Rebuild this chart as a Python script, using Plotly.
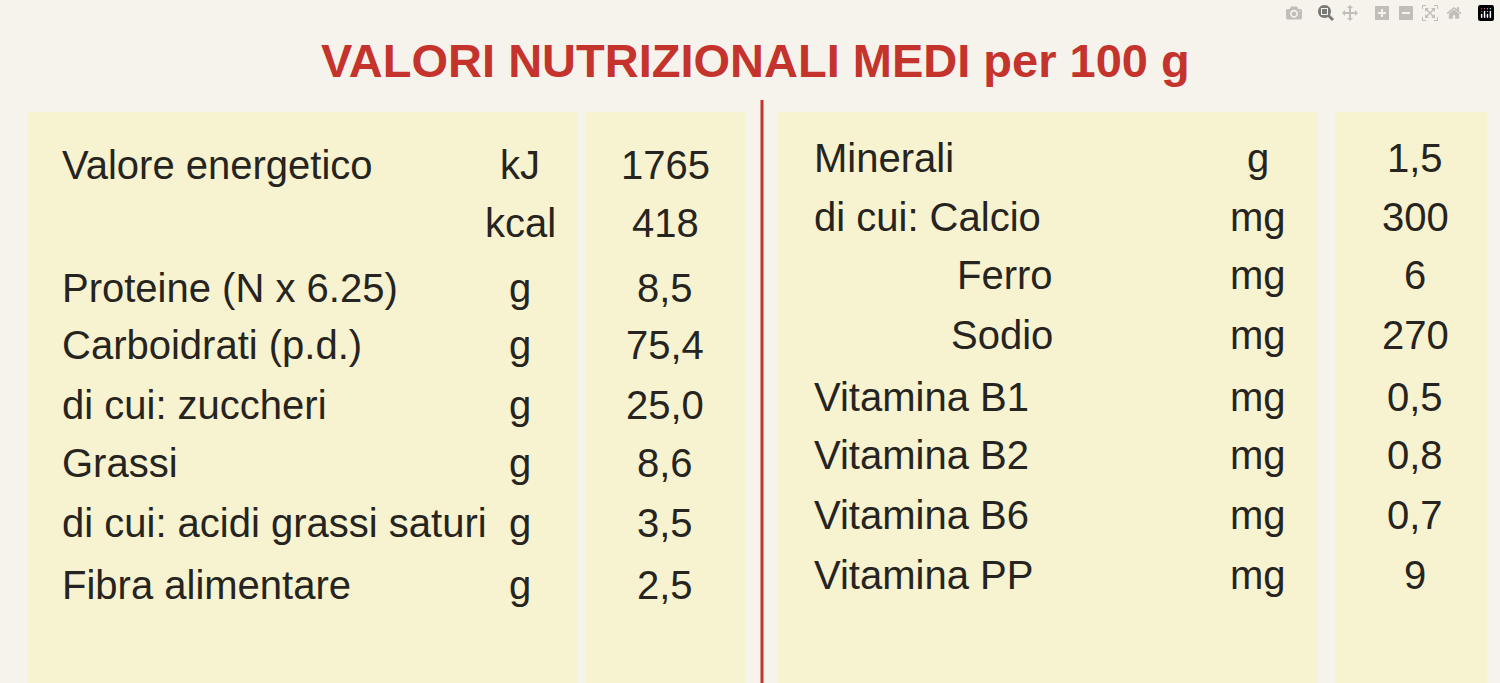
import plotly.graph_objects as go

title = "VALORI NUTRIZIONALI MEDI per 100 g"

left_labels = ["Valore energetico", "", "Proteine (N x 6.25)", "Carboidrati (p.d.)",
               "di cui: zuccheri", "Grassi", "di cui: acidi grassi saturi", "Fibra alimentare"]
left_units = ["kJ", "kcal", "g", "g", "g", "g", "g", "g"]
left_values = ["1765", "418", "8,5", "75,4", "25,0", "8,6", "3,5", "2,5"]
left_y = [165, 223, 288, 345, 405, 463, 523, 585]

right_labels = ["Minerali", "di cui: Calcio", "Ferro", "Sodio", "Vitamina B1",
                "Vitamina B2", "Vitamina B6", "Vitamina PP"]
right_indent = [False, False, True, True, False, False, False, False]
right_units = ["g", "mg", "mg", "mg", "mg", "mg", "mg", "mg"]
right_values = ["1,5", "300", "6", "270", "0,5", "0,8", "0,7", "9"]
right_y = [158, 217, 275, 335, 397, 455, 515, 575]

W, H = 1500, 683
bg = "#f6f3ec"
panel = "#f7f2cf"
ink = "#262420"
red = "#c5332d"
font = "Liberation Sans"
fs = 40

fig = go.Figure()
for x0, x1 in [(28, 578), (586, 745), (778, 1318), (1335, 1487)]:
    fig.add_shape(type="rect", x0=x0, x1=x1, y0=112, y1=H, fillcolor=panel, line_width=0, layer="below")
fig.add_shape(type="line", x0=762, x1=762, y0=100, y1=H, line=dict(color=red, width=3))

def txt(x, y, s, anchor, color=ink, size=fs):
    fig.add_annotation(x=x, y=y, text=s, showarrow=False, xanchor=anchor, yanchor="middle",
                       font=dict(family=font, size=size, color=color))

txt(755, 60, "<b>" + title + "</b>", "center", red, 47)

for lab, u, v, y in zip(left_labels, left_units, left_values, left_y):
    if lab:
        txt(60, y, lab, "left")
    txt(520, y, u, "center")
    txt(665, y, v, "center")

for lab, ind, u, v, y in zip(right_labels, right_indent, right_units, right_values, right_y):
    if ind:
        txt(1055, y, lab, "right")
    else:
        txt(812, y, lab, "left")
    txt(1258, y, u, "center")
    txt(1415, y, v, "center")

fig.update_xaxes(range=[0, W], visible=False)
fig.update_yaxes(range=[H, 0], visible=False)
fig.update_layout(width=W, height=H, margin=dict(l=0, r=0, t=0, b=0),
                  paper_bgcolor=bg, plot_bgcolor=bg, showlegend=False)
fig.write_html("out.html", post_script="document.body.style.margin='0';document.body.style.overflow='hidden';")
